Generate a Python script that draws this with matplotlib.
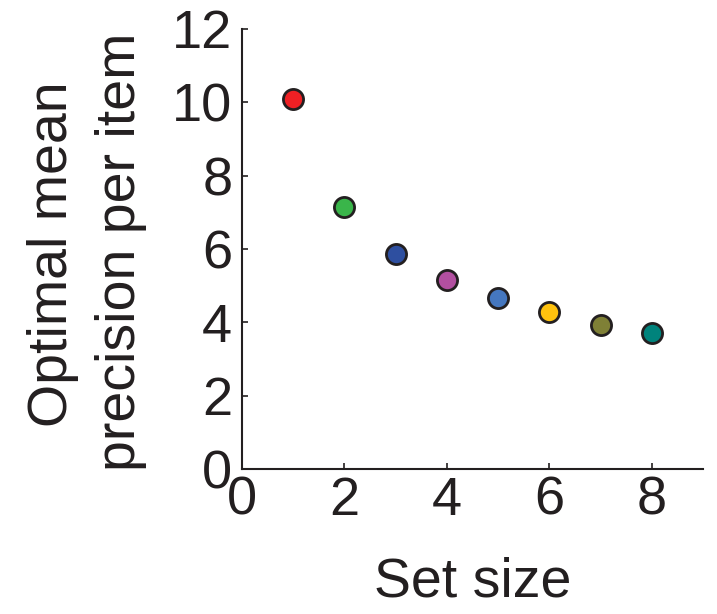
import matplotlib
matplotlib.use("Agg")
import matplotlib.pyplot as plt

set_sizes = [1, 2, 3, 4, 5, 6, 7, 8]
precision = [10.09, 7.14, 5.86, 5.15, 4.66, 4.28, 3.93, 3.71]
colors = ["#EE2024", "#3AB54A", "#2E4FA0", "#B24FA0", "#4577BF", "#FFC20E", "#7F8036", "#00837C"]
xticks = [0, 2, 4, 6, 8]
yticks = [0, 2, 4, 6, 8, 10, 12]
ylabel_lines = ["Optimal mean", "precision per item"]

plt.rcParams['font.family'] = ['Liberation Sans', 'DejaVu Sans']
fig = plt.figure(figsize=(7.17, 6.14), dpi=100)
ax = fig.add_axes([242 / 717, 1 - 469 / 614, 461 / 717, 440 / 614])
for x, y, c in zip(set_sizes, precision, colors):
    ax.plot([x], [y], 'o', ms=14.5, mfc=c, mec='#231F20', mew=2.0, clip_on=False)
ax.set_xlim(0, 9)
ax.set_ylim(0, 12)
ax.set_xticks(xticks)
ax.set_yticks(yticks)
ax.spines['top'].set_visible(False)
ax.spines['right'].set_visible(False)
for s in ['left', 'bottom']:
    ax.spines[s].set_linewidth(1.5)
    ax.spines[s].set_color('#231F20')
ax.tick_params(direction='in', length=4, width=1.2, labelsize=39, colors='#231F20')
ax.tick_params(axis='y', pad=7)
ax.tick_params(axis='x', pad=5)
ax.set_xlabel('Set size', fontsize=40, color='#231F20', labelpad=22)
fig.text(67 / 717, 1 - 254 / 614, ylabel_lines[0], fontsize=40, color='#231F20',
         rotation=90, rotation_mode='anchor', ha='center', va='baseline')
fig.text(135 / 717, 1 - 252 / 614, ylabel_lines[1], fontsize=40, color='#231F20',
         rotation=90, rotation_mode='anchor', ha='center', va='baseline')
fig.savefig('out.png', dpi=100)
